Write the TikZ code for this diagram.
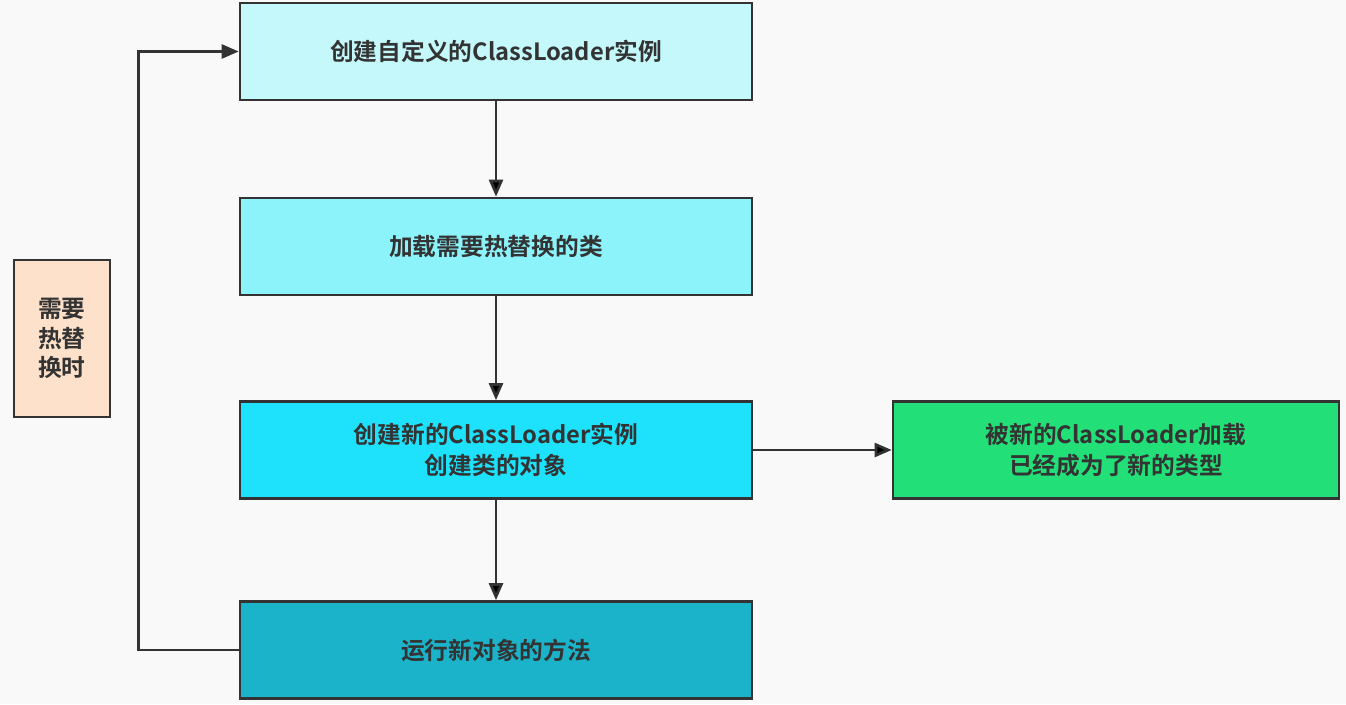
\documentclass[tikz,border=0pt]{standalone}
\usepackage{fontspec}
\setmainfont{Noto Sans CJK SC Bold}
\usepackage{tikz}
\usetikzlibrary{
        arrows.meta,
        positioning
    }
\definecolor{bgcol}{HTML}{F9F9F9}
\definecolor{linecol}{HTML}{333333}
\definecolor{cyanA}{HTML}{C4F8FB}
\definecolor{cyanB}{HTML}{8CF3FB}
\definecolor{cyanC}{HTML}{1EE2FB}
\definecolor{cyanD}{HTML}{1AB3CA}
\definecolor{greenbox}{HTML}{22DF78}
\definecolor{peach}{HTML}{FEE1CA}
\tikzset{>={Triangle[length=0.34cm,width=0.28cm]},auto,node distance=4cm}
\tikzset{box/.style={draw=linecol,line width=1.5pt,minimum width=10.24cm,minimum height=1.94cm,
        align=center,text=linecol,font=\fontsize{13.5}{18}\selectfont}}

\begin{document}
\begin{tikzpicture}[auto,node distance=4cm]
                    \fill[bgcol] (0,0) rectangle (26.92,-14.08);
                    \useasboundingbox (0,0) rectangle (26.92,-14.08);

                        \node[box,fill=cyanA] (create) at (9.92,-1.03) {创建自定义的ClassLoader实例};
                        \node[box,fill=cyanB] (load) [below of=create,node distance=3.9cm] {加载需要热替换的类};
                        \node[box,fill=cyanC] (newobj) [below of=load,node distance=4.07cm] {创建新的ClassLoader实例\\创建类的对象};
                        \node[box,fill=cyanD] (run) [below of=newobj] {运行新对象的方法};
                        \node[box,fill=greenbox,minimum width=8.92cm] (newtype) [right of=newobj,node distance=12.4cm] {被新的ClassLoader加载\\已经成为了新的类型};
                        \node[box,fill=peach,minimum width=1.92cm,minimum height=3.14cm,font=\fontsize{13.5}{17}\selectfont] (when) at (1.24,-6.77) {需要\\热替\\换时};
                    \path[->,draw=linecol,line width=1.5pt]
                            (create)  edge (load)
                            (load)  edge (newobj)
                            (newobj)  edge (run)
                            (newobj)  edge (newtype)
                            ;
                    \draw[->,linecol,line width=1.5pt] (run.west) -- ++(-2,0) |- (create.west);
                    \end{tikzpicture}
\end{document}
